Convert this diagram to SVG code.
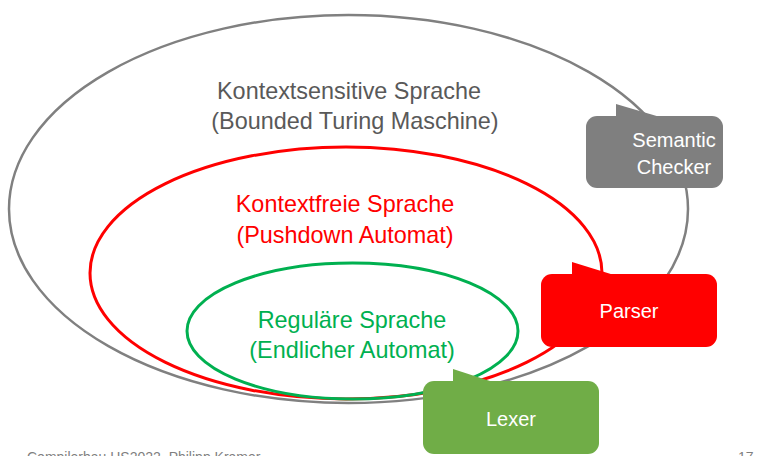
<svg xmlns="http://www.w3.org/2000/svg" width="773" height="456" viewBox="0 0 773 456">
<style>
text{font-family:"Liberation Sans",Arial,sans-serif;text-anchor:middle}
.big{font-size:23.4px}
.cl{font-size:20px;fill:#fff}
.foot{font-size:14px;fill:#7f7f7f;text-anchor:start}
</style>
<rect width="773" height="456" fill="#fff"/>
<g id="kontextsensitiv">
<ellipse cx="348.5" cy="209" rx="339.5" ry="194" fill="none" stroke="#808080" stroke-width="2.5"/>
<text class="big" x="349" y="99" fill="#595959">Kontextsensitive Sprache</text>
<text class="big" x="355" y="129" fill="#595959">(Bounded Turing Maschine)</text>
</g>
<g id="kontextfrei">
<ellipse cx="346" cy="273" rx="256" ry="126" fill="none" stroke="#ff0000" stroke-width="3"/>
<text class="big" x="345" y="212" fill="#ff0000">Kontextfreie Sprache</text>
<text class="big" x="345" y="243" fill="#ff0000">(Pushdown Automat)</text>
</g>
<g id="regulaer">
<ellipse cx="352.5" cy="331" rx="165.5" ry="68" fill="none" stroke="#00b050" stroke-width="3"/>
<text class="big" x="352" y="328" fill="#00b050">Reguläre Sprache</text>
<text class="big" x="352" y="358" fill="#00b050">(Endlicher Automat)</text>
</g>
<g id="semantic-checker">
<path d="M616,104 L660,117 L616,117 Z" fill="#7f7f7f"/>
<rect x="586" y="116" width="137" height="72" rx="11" fill="#7f7f7f"/>
<text class="cl" x="674" y="147">Semantic</text>
<text class="cl" x="674" y="174">Checker</text>
</g>
<g id="parser">
<path d="M572,262 L614,275 L572,275 Z" fill="#ff0000"/>
<rect x="541" y="274" width="176" height="73" rx="11" fill="#ff0000"/>
<text class="cl" x="629" y="318">Parser</text>
</g>
<g id="lexer">
<path d="M453,369 L493,382 L453,382 Z" fill="#70ad47"/>
<rect x="423" y="381" width="176" height="73" rx="11" fill="#70ad47"/>
<text class="cl" x="511" y="426">Lexer</text>
</g>
<g id="connectors"></g>
<text class="foot" x="27" y="462">Compilerbau HS2022, Philipp Kramer</text>
<text class="foot" x="738" y="462">17</text>
</svg>
